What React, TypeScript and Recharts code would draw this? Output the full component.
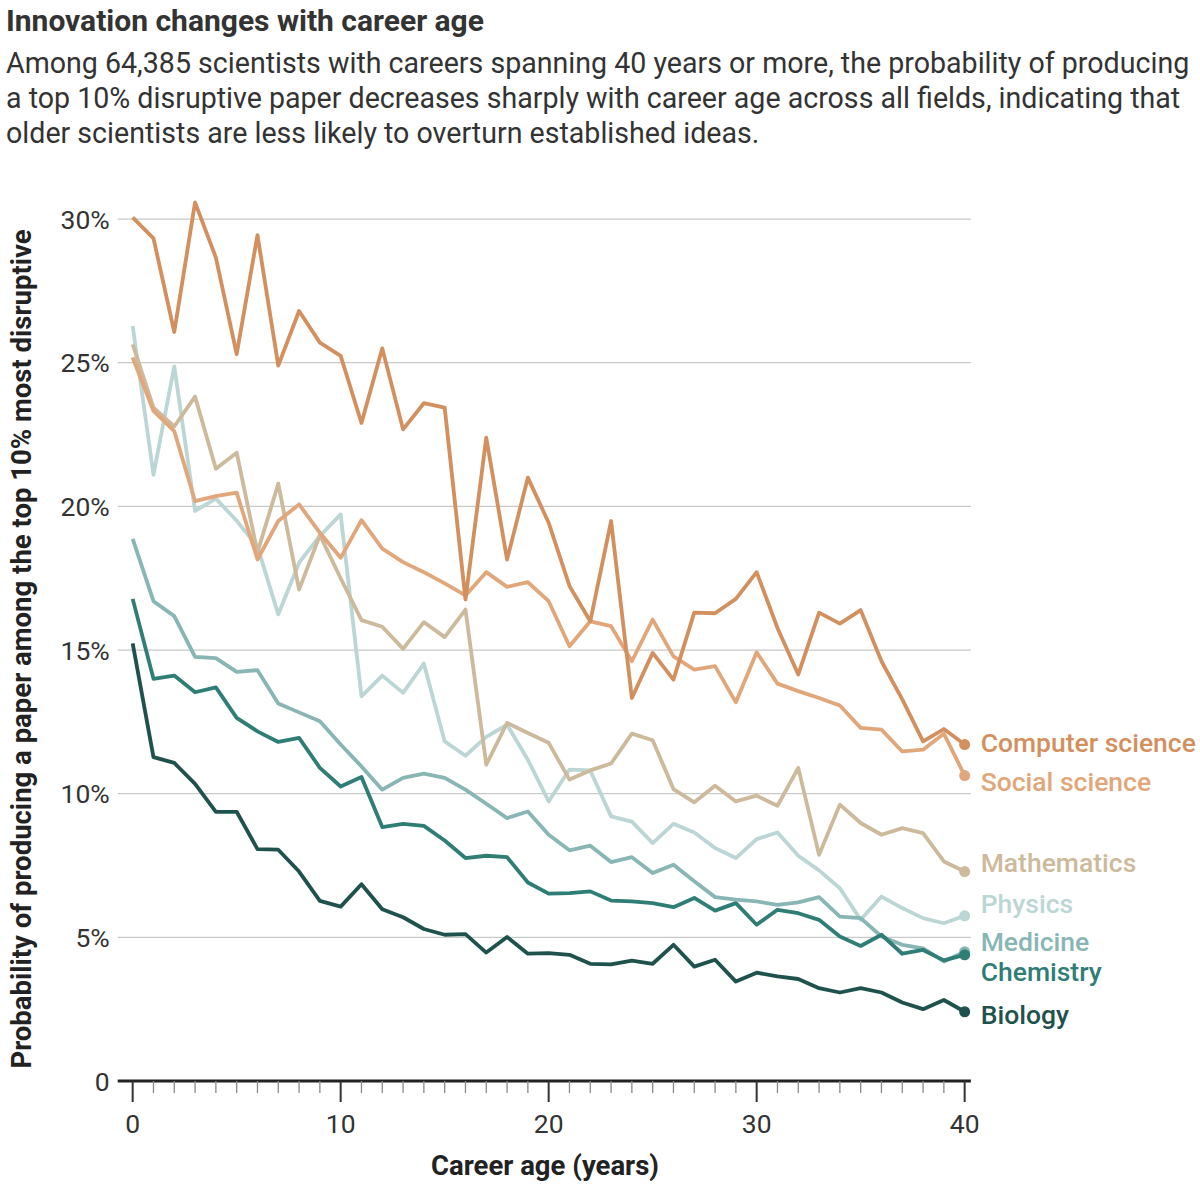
import { LineChart, Line, XAxis, YAxis, ReferenceLine, Label } from "recharts";

// career age in years
const AGES = [
  0, 1, 2, 3, 4, 5, 6, 7, 8, 9, 10, 11, 12, 13, 14, 15, 16, 17, 18, 19, 20,
  21, 22, 23, 24, 25, 26, 27, 28, 29, 30, 31, 32, 33, 34, 35, 36, 37, 38, 39, 40,
];

// probability (%) of a top-10% disruptive paper, by field
const COMPUTER_SCIENCE = [
  30.06, 29.33, 26.07, 30.58, 28.66, 25.3, 29.44, 24.9, 26.8, 25.7, 25.24,
  22.9, 25.5, 22.68, 23.59, 23.44, 16.76, 22.39, 18.15, 21.0, 19.43,
  17.23, 16.0, 19.49, 13.33, 14.9, 13.97, 16.3, 16.28, 16.78, 17.71,
  15.77, 14.15, 16.3, 15.92, 16.39, 14.61, 13.28, 11.82, 12.25, 11.71,
];
const SOCIAL_SCIENCE = [
  25.18, 23.32, 22.62, 20.18, 20.36, 20.48, 18.15, 19.49, 20.07, 19.08, 18.21,
  19.52, 18.53, 18.06, 17.71, 17.32, 16.9, 17.71, 17.2, 17.36, 16.7,
  15.13, 16.0, 15.83, 14.61, 16.06, 14.78, 14.32, 14.44, 13.18, 14.92,
  13.83, 13.57, 13.33, 13.07, 12.29, 12.23, 11.47, 11.53, 12.09, 10.63,
];
const MATHEMATICS = [
  25.64, 23.44, 22.78, 23.82, 21.31, 21.87, 18.4, 20.79, 17.1, 19.0, 17.5,
  16.04, 15.81, 15.04, 15.97, 15.45, 16.41, 11.01, 12.46, 12.11, 11.77,
  10.49, 10.81, 11.05, 12.09, 11.86, 10.16, 9.7, 10.28, 9.73, 9.93,
  9.58, 10.9, 7.87, 9.62, 8.98, 8.57, 8.8, 8.63, 7.64, 7.29,
];
const PHYSICS = [
  26.28, 21.1, 24.87, 19.84, 20.27, 19.5, 18.6, 16.24, 18.04, 18.97, 19.72,
  13.39, 14.11, 13.51, 14.53, 11.82, 11.32, 11.98, 12.4, 11.18, 9.73,
  10.84, 10.81, 9.21, 9.03, 8.28, 8.95, 8.65, 8.11, 7.76, 8.42,
  8.65, 7.84, 7.33, 6.71, 5.61, 6.42, 6.02, 5.67, 5.49, 5.75,
];
const MEDICINE = [
  18.87, 16.7, 16.18, 14.76, 14.72, 14.24, 14.3, 13.14, 12.83, 12.52, 11.71,
  10.95, 10.14, 10.55, 10.7, 10.55, 10.14, 9.65, 9.15, 9.38, 8.57,
  8.03, 8.19, 7.62, 7.79, 7.24, 7.53, 6.95, 6.4, 6.31, 6.25,
  6.13, 6.22, 6.4, 5.72, 5.67, 5.03, 4.74, 4.62, 4.16, 4.5,
];
const CHEMISTRY = [
  16.78, 14.0, 14.11, 13.53, 13.7, 12.64, 12.17, 11.8, 11.94, 10.9, 10.25,
  10.58, 8.84, 8.95, 8.88, 8.37, 7.76, 7.84, 7.79, 6.91, 6.52,
  6.54, 6.6, 6.28, 6.25, 6.19, 6.05, 6.37, 5.93, 6.19, 5.44,
  5.96, 5.84, 5.61, 5.03, 4.7, 5.09, 4.43, 4.56, 4.2, 4.39,
];
const BIOLOGY = [
  15.23, 11.27, 11.07, 10.34, 9.37, 9.37, 8.07, 8.05, 7.29, 6.27, 6.07,
  6.85, 5.98, 5.7, 5.29, 5.09, 5.11, 4.47, 5.01, 4.43, 4.45,
  4.39, 4.08, 4.06, 4.19, 4.08, 4.74, 3.98, 4.22, 3.46, 3.77,
  3.64, 3.55, 3.23, 3.08, 3.23, 3.08, 2.73, 2.5, 2.82, 2.41,
];

const Y_TICKS = [0, 5, 10, 15, 20, 25, 30];

// labelDy nudges the end label so the names don't collide
const SERIES = [
  { key: "physics", name: "Physics", values: PHYSICS, color: "#BCD6D5", labelDy: -12 },
  { key: "math", name: "Mathematics", values: MATHEMATICS, color: "#CDB99B", labelDy: -9 },
  { key: "medicine", name: "Medicine", values: MEDICINE, color: "#88B6B4", labelDy: -10 },
  { key: "social", name: "Social science", values: SOCIAL_SCIENCE, color: "#E2A67B", labelDy: 6 },
  { key: "chemistry", name: "Chemistry", values: CHEMISTRY, color: "#2F7E76", labelDy: 17 },
  { key: "biology", name: "Biology", values: BIOLOGY, color: "#1F524D", labelDy: 3 },
  { key: "cs", name: "Computer science", values: COMPUTER_SCIENCE, color: "#D38F5E", labelDy: -2 },
];

const data = AGES.map((age, i) => {
  const row: Record<string, number> = { age };
  SERIES.forEach((s) => {
    row[s.key] = s.values[i];
  });
  return row;
});

const endDot = (s: (typeof SERIES)[number]) => (props: any) => {
  const { cx, cy, index } = props;
  if (index !== AGES.length - 1) return <g key={`${s.key}-${index}`} />;
  return (
    <g key={`${s.key}-${index}`}>
      <circle cx={cx} cy={cy} r={5.5} fill={s.color} />
      <text
        x={cx + 16}
        y={cy + s.labelDy}
        dominantBaseline="central"
        fontSize={26.5}
        fontWeight={500}
        fill={s.color}
      >
        {s.name}
      </text>
    </g>
  );
};

const XTick = (props: any) => {
  const { x, y, payload } = props;
  const major = payload.value % 10 === 0;
  return (
    <g>
      <line
        x1={x}
        x2={x}
        y1={y}
        y2={y + (major ? 21 : 12)}
        stroke={major ? "#333" : "#8a8a8a"}
        strokeWidth={major ? 2 : 1.3}
      />
      {major && (
        <text x={x} y={y + 42} textAnchor="middle" dominantBaseline="central" fontSize={26.5} fill="#333">
          {payload.value}
        </text>
      )}
    </g>
  );
};

const YTick = (props: any) => {
  const { x, y, payload } = props;
  return (
    <text x={x} y={y} textAnchor="end" dominantBaseline="central" fontSize={26.5} fill="#333">
      {payload.value === 0 ? "0" : `${payload.value}%`}
    </text>
  );
};

const App = () => {
  return (
    <div
      style={{
        position: "absolute",
        left: 0,
        top: 0,
        width: 1200,
        height: 1185,
        background: "#fff",
        fontFamily: "Roboto, 'Noto Sans', sans-serif",
        color: "#333",
      }}
    >
      <div
        style={{
          position: "absolute",
          left: 6,
          top: 3,
          fontSize: 30,
          lineHeight: "36px",
          fontWeight: 700,
          whiteSpace: "nowrap",
        }}
      >
        Innovation changes with career age
      </div>
      <div
        style={{
          position: "absolute",
          left: 6,
          top: 46,
          fontSize: 28.6,
          lineHeight: "35px",
          whiteSpace: "nowrap",
        }}
      >
        Among 64,385 scientists with careers spanning 40 years or more, the probability of producing
        <br />
        a top 10% disruptive paper decreases sharply with career age across all fields, indicating that
        <br />
        older scientists are less likely to overturn established ideas.
      </div>
      <LineChart
        width={1200}
        height={1185}
        data={data}
        margin={{ top: 161.6, right: 229.1, bottom: 44, left: 17.7 }}
      >
        {Y_TICKS.filter((t) => t > 0).map((t) => (
          <ReferenceLine key={`grid-${t}`} y={t} stroke="#c9c9c9" strokeWidth={1.3} />
        ))}
        <XAxis
          dataKey="age"
          type="number"
          domain={[-0.72, 40.3]}
          ticks={AGES}
          interval={0}
          height={60}
          tickSize={0}
          tickMargin={0}
          tickLine={false}
          axisLine={{ stroke: "#222", strokeWidth: 3 }}
          tick={<XTick />}
        >
          <Label
            content={() => (
              <text x={545} y={1175} textAnchor="middle" fontSize={27.5} fontWeight={700} fill="#222">
                Career age (years)
              </text>
            )}
          />
        </XAxis>
        <YAxis
          type="number"
          domain={[0, 32]}
          ticks={Y_TICKS}
          width={100}
          tickSize={0}
          tickMargin={8}
          tickLine={false}
          axisLine={false}
          tick={<YTick />}
        >
          <Label
            content={() => (
              <text
                transform="translate(31, 649) rotate(-90)"
                textAnchor="middle"
                fontSize={27.5}
                fontWeight={700}
                fill="#222"
              >
                Probability of producing a paper among the top 10% most disruptive
              </text>
            )}
          />
        </YAxis>
        {SERIES.map((s) => (
          <Line
            key={s.key}
            dataKey={s.key}
            type="linear"
            stroke={s.color}
            strokeWidth={3.8}
            strokeLinejoin="round"
            dot={endDot(s)}
            activeDot={false}
            isAnimationActive={false}
          />
        ))}
      </LineChart>
    </div>
  );
};

export default App;
